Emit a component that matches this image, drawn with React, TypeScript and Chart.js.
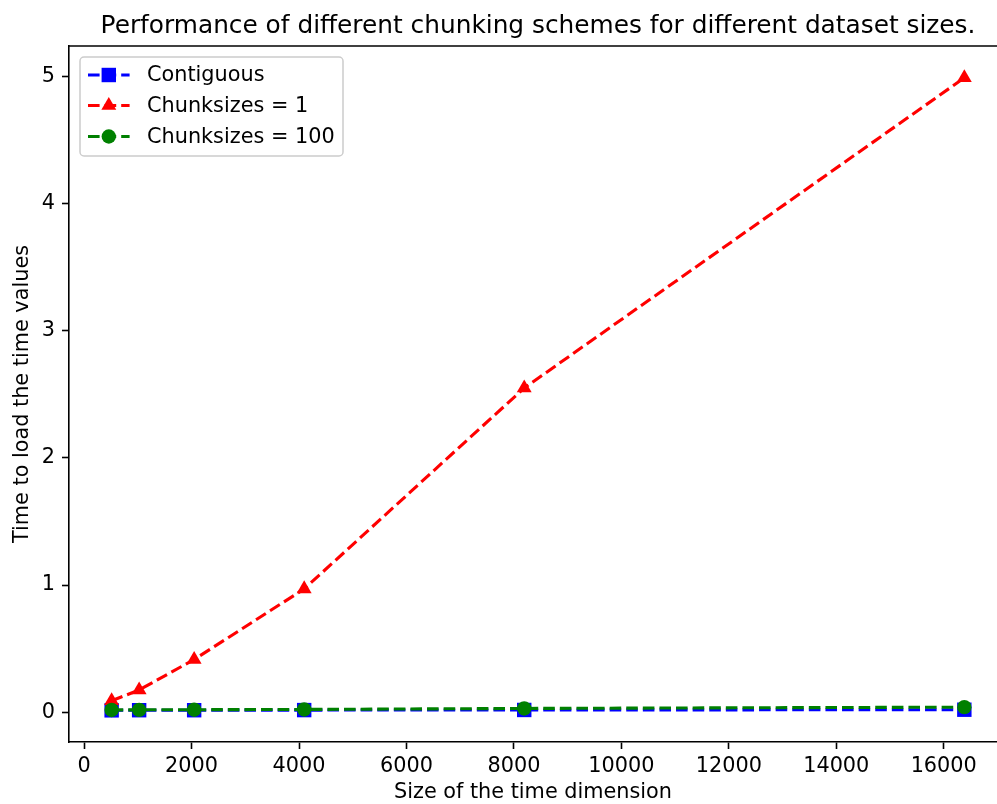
import React, { useEffect, useRef } from "react";
import { Chart, registerables } from "chart.js";

Chart.register(...registerables);

// ---- data ----
const sizes = [512, 1024, 2048, 4096, 8192, 16384];
const contiguous = [0.015, 0.016, 0.016, 0.017, 0.018, 0.02];
const chunks1 = [0.09, 0.175, 0.415, 0.97, 2.55, 4.99];
const chunks100 = [0.018, 0.019, 0.02, 0.022, 0.03, 0.04];
const xTicks = [0, 2000, 4000, 6000, 8000, 10000, 12000, 14000, 16000];
const yTicks = [0, 1, 2, 3, 4, 5];
const seriesLabels = ["Contiguous", "Chunksizes = 1", "Chunksizes = 100"];
const titleText = "Performance of different chunking schemes for different dataset sizes.";
const xLabel = "Size of the time dimension";
const yLabel = "Time to load the time values";

const FONT = "'DejaVu Sans', sans-serif";
const W = 997;
const H = 804;

const styles = [
  { color: "#0000ff", pointStyle: "rect", radius: 10.2 },
  { color: "#ff0000", pointStyle: "triangle", radius: 8.6 },
  { color: "#008000", pointStyle: "circle", radius: 7.2 },
];
const DASH = [11.6, 5];
const LW = 3.1;

function drawMarker(ctx: CanvasRenderingContext2D, style: string, radius: number, x: number, y: number) {
  ctx.beginPath();
  if (style === "rect") {
    const s = radius * Math.SQRT1_2;
    ctx.rect(x - s, y - s, 2 * s, 2 * s);
  } else if (style === "triangle") {
    let rad = 0;
    const T = (2 * Math.PI) / 3;
    ctx.moveTo(x + Math.sin(rad) * radius, y - Math.cos(rad) * radius);
    rad += T;
    ctx.lineTo(x + Math.sin(rad) * radius, y - Math.cos(rad) * radius);
    rad += T;
    ctx.lineTo(x + Math.sin(rad) * radius, y - Math.cos(rad) * radius);
    ctx.closePath();
  } else {
    ctx.arc(x, y, radius, 0, Math.PI * 2);
  }
  ctx.fill();
}

const overlay = {
  id: "overlay",
  afterDatasetsDraw(chart: any) {
    const { ctx, chartArea } = chart;
    ctx.save();
    ctx.strokeStyle = "#000";
    ctx.lineWidth = 1.6;
    ctx.beginPath();
    ctx.moveTo(chartArea.left, chartArea.top);
    ctx.lineTo(chartArea.right, chartArea.top);
    ctx.stroke();
    ctx.restore();
  },
  afterDraw(chart: any) {
    const { ctx } = chart;
    ctx.save();
    // title
    ctx.fillStyle = "#000";
    ctx.font = `24.8px ${FONT}`;
    ctx.textAlign = "center";
    ctx.textBaseline = "alphabetic";
    ctx.fillText(titleText, 538, 33);

    // legend frame
    const lx = 80, ly = 57, lw = 263, lh = 99, r = 4;
    ctx.beginPath();
    ctx.moveTo(lx + r, ly);
    ctx.lineTo(lx + lw - r, ly);
    ctx.arcTo(lx + lw, ly, lx + lw, ly + r, r);
    ctx.lineTo(lx + lw, ly + lh - r);
    ctx.arcTo(lx + lw, ly + lh, lx + lw - r, ly + lh, r);
    ctx.lineTo(lx + r, ly + lh);
    ctx.arcTo(lx, ly + lh, lx, ly + lh - r, r);
    ctx.lineTo(lx, ly + r);
    ctx.arcTo(lx, ly, lx + r, ly, r);
    ctx.closePath();
    ctx.fillStyle = "rgba(255,255,255,0.8)";
    ctx.fill();
    ctx.strokeStyle = "#cccccc";
    ctx.lineWidth = 1.5;
    ctx.stroke();

    const rows = [75, 105.5, 136.5];
    seriesLabels.forEach((label, i) => {
      const y = rows[i];
      const st = styles[i];
      ctx.save();
      ctx.strokeStyle = st.color;
      ctx.lineWidth = LW;
      ctx.setLineDash(DASH);
      ctx.beginPath();
      ctx.moveTo(88, y);
      ctx.lineTo(129.6, y);
      ctx.stroke();
      ctx.restore();
      ctx.fillStyle = st.color;
      drawMarker(ctx, st.pointStyle, st.radius, 108.8, y);
      ctx.fillStyle = "#000";
      ctx.font = `20.8px ${FONT}`;
      ctx.textAlign = "left";
      ctx.textBaseline = "middle";
      ctx.fillText(label, 147, y + 1);
    });
    ctx.restore();
  },
};

export default function App() {
  const ref = useRef<HTMLCanvasElement>(null);

  useEffect(() => {
    if (!ref.current) return;
    const seriesValues = [contiguous, chunks1, chunks100];
    const datasets = seriesValues.map((vals, i) => ({
      label: seriesLabels[i],
      data: sizes.map((x, j) => ({ x, y: vals[j] })),
      borderColor: styles[i].color,
      backgroundColor: styles[i].color,
      borderWidth: LW,
      borderDash: DASH,
      pointStyle: styles[i].pointStyle,
      pointRadius: styles[i].radius,
      pointBorderWidth: 0,
      pointBackgroundColor: styles[i].color,
      tension: 0,
      fill: false,
      clip: false,
      order: 3 - i,
    }));

    const tickFont = { family: FONT, size: 20.8, lineHeight: 1 };

    const chart = new Chart(ref.current, {
      type: "line",
      data: { datasets },
      plugins: [overlay],
      options: {
        animation: false,
        responsive: false,
        devicePixelRatio: 1,
        layout: { autoPadding: false, padding: { top: 46, left: 0, right: 0, bottom: 0 } },
        plugins: {
          legend: { display: false },
          title: { display: false },
          tooltip: { enabled: false },
        },
        scales: {
          x: {
            type: "linear",
            min: -281.6,
            max: 16992,
            afterBuildTicks: (scale: any) => {
              scale.ticks = xTicks.map((v) => ({ value: v }));
            },
            afterFit: (scale: any) => {
              scale.height = 62;
              scale.paddingLeft = 0;
              scale.paddingRight = 0;
            },
            ticks: {
              color: "#000",
              font: tickFont,
              padding: 7,
              maxRotation: 0,
              autoSkip: false,
              callback: (v: any) => String(v),
            },
            grid: {
              display: true,
              drawOnChartArea: false,
              drawTicks: true,
              tickLength: 7,
              tickWidth: 1.6,
              tickColor: "#000",
            },
            border: { display: true, color: "#000", width: 1.6 },
            title: {
              display: true,
              text: xLabel,
              color: "#000",
              font: { family: FONT, size: 20.8, lineHeight: 1 },
              padding: { top: 0, bottom: 1 },
            },
          },
          y: {
            type: "linear",
            min: -0.234,
            max: 5.24,
            afterBuildTicks: (scale: any) => {
              scale.ticks = yTicks.map((v) => ({ value: v }));
            },
            afterFit: (scale: any) => {
              scale.width = 69;
              scale.paddingTop = 0;
              scale.paddingBottom = 0;
            },
            ticks: {
              color: "#000",
              font: tickFont,
              padding: 7,
              autoSkip: false,
              callback: (v: any) => String(v),
            },
            grid: {
              display: true,
              drawOnChartArea: false,
              drawTicks: true,
              tickLength: 7,
              tickWidth: 1.6,
              tickColor: "#000",
            },
            border: { display: true, color: "#000", width: 1.6 },
            title: {
              display: true,
              text: yLabel,
              color: "#000",
              font: { family: FONT, size: 20.8, lineHeight: 1 },
              padding: { top: 12, bottom: 0 },
            },
          },
        },
      } as any,
    });
    return () => chart.destroy();
  }, []);

  return (
    <div
      style={{
        position: "fixed",
        left: 0,
        top: 0,
        width: W,
        height: H,
        overflow: "hidden",
        background: "#fff",
      }}
    >
      <canvas ref={ref} width={W} height={H} style={{ display: "block", width: W, height: H }} />
    </div>
  );
}
